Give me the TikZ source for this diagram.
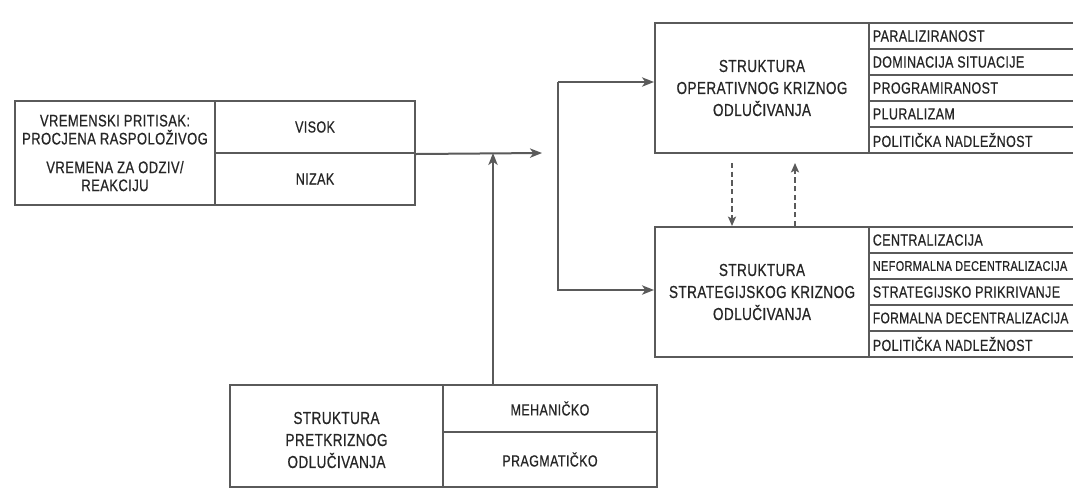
\documentclass[tikz,border=0pt]{standalone}
\usepackage{fontspec}
\setmainfont{Liberation Sans}[FakeStretch=0.78,FakeBold=0.6,LetterSpace=2.5]
\usetikzlibrary{arrows.meta}
\definecolor{ln}{HTML}{5A5A5A}
\definecolor{tx}{HTML}{262626}
\newcommand{\itm}[1]{\makebox[160pt][l]{#1}}
\begin{document}
\begin{tikzpicture}[x=0.75pt,y=-0.75pt,
  font=\fontsize{12}{13.5}\selectfont, text=tx,
  cell/.style={draw=ln, line width=1.5pt, inner sep=0pt, anchor=center, align=center},
  big/.style={font=\fontsize{13}{16.5}\selectfont},
  item/.style={cell, minimum width=165.75pt, minimum height=19.5pt},
  arr/.style={draw=ln, line width=1.5pt, line join=miter, -{Stealth[length=9pt,width=7pt,inset=2.5pt]}},
  darr/.style={draw=ln, line width=1.3pt, dash pattern=on 4pt off 2.5pt, -{Stealth[length=7pt,width=6pt,inset=1.5pt]}}]
\useasboundingbox (0,0) rectangle (1073,490);
\clip (0,0) rectangle (1073,490);
\fill[white] (0,0) rectangle (1073,490);
% left box
\node[cell, font=\fontsize{12.5}{13.5}\selectfont, minimum width=150pt, minimum height=78pt] (vp) at (115,153)
  {VREMENSKI PRITISAK:\\PROCJENA RASPOLOŽIVOG\\[8pt]VREMENA ZA ODZIV/\\REAKCIJU};
\node[cell, minimum width=150pt, minimum height=39pt] (visok) at (315,127) {VISOK};
\node[cell, minimum width=150pt, minimum height=39pt] (nizak) at (315,179) {NIZAK};
% operative box
\node[cell, big, minimum width=160.5pt, minimum height=97.5pt] (op) at (762,88)
  {STRUKTURA\\OPERATIVNOG KRIZNOG\\ODLUČIVANJA};
\node[item] (o1) at (979.5,36) {\itm{PARALIZIRANOST}};
\node[item] (o2) at (979.5,62) {\itm{DOMINACIJA SITUACIJE}};
\node[item] (o3) at (979.5,88) {\itm{PROGRAMIRANOST}};
\node[item] (o4) at (979.5,114) {\itm{PLURALIZAM}};
\node[item] (o5) at (979.5,140) {\itm{POLITIČKA NADLEŽNOST}};
% strategic box
\node[cell, big, minimum width=160.5pt, minimum height=97.5pt] (st) at (762,292)
  {STRUKTURA\\STRATEGIJSKOG KRIZNOG\\ODLUČIVANJA};
\node[item] (s1) at (979.5,240) {\itm{CENTRALIZACIJA}};
\node[item] (s2) at (979.5,266) {\itm{\fontsize{10.5}{11}\selectfont NEFORMALNA DECENTRALIZACIJA}};
\node[item] (s3) at (979.5,292) {\itm{STRATEGIJSKO PRIKRIVANJE}};
\node[item] (s4) at (979.5,318) {\itm{\fontsize{11.5}{12}\selectfont FORMALNA DECENTRALIZACIJA}};
\node[item] (s5) at (979.5,344) {\itm{POLITIČKA NADLEŽNOST}};
% pre-crisis box
\node[cell, minimum width=159.75pt, minimum height=76.5pt] (pk) at (336.5,436) {};
\node[big, align=center] (pkt) at (336.5,440) {STRUKTURA\\PRETKRIZNOG\\ODLUČIVANJA};
\node[cell, minimum width=160.5pt, minimum height=35.25pt] (meh) at (550,408.5) {MEHANIČKO};
\node[cell, minimum width=160.5pt, minimum height=41.25pt] (prag) at (550,459.5) {PRAGMATIČKO};
% connectors
\coordinate (tip) at (542,153);
\coordinate (j) at (493,153);
\coordinate (b1) at (558,82);
\coordinate (b2) at (558,290);
\coordinate (d1) at (732,163);
\coordinate (d2) at (795,163);
\draw[arr] (visok.south east) -- (tip);
\draw[arr] (meh.north -| j) -- (j);
\draw[arr] (b1) -- (b2) -- (b2 -| st.west);
\draw[arr] (b1) -- (b1 -| op.west);
\draw[darr] (d1) -- (d1 |- st.north);
\draw[darr] (d2 |- st.north) -- (d2);
\end{tikzpicture}
\end{document}
